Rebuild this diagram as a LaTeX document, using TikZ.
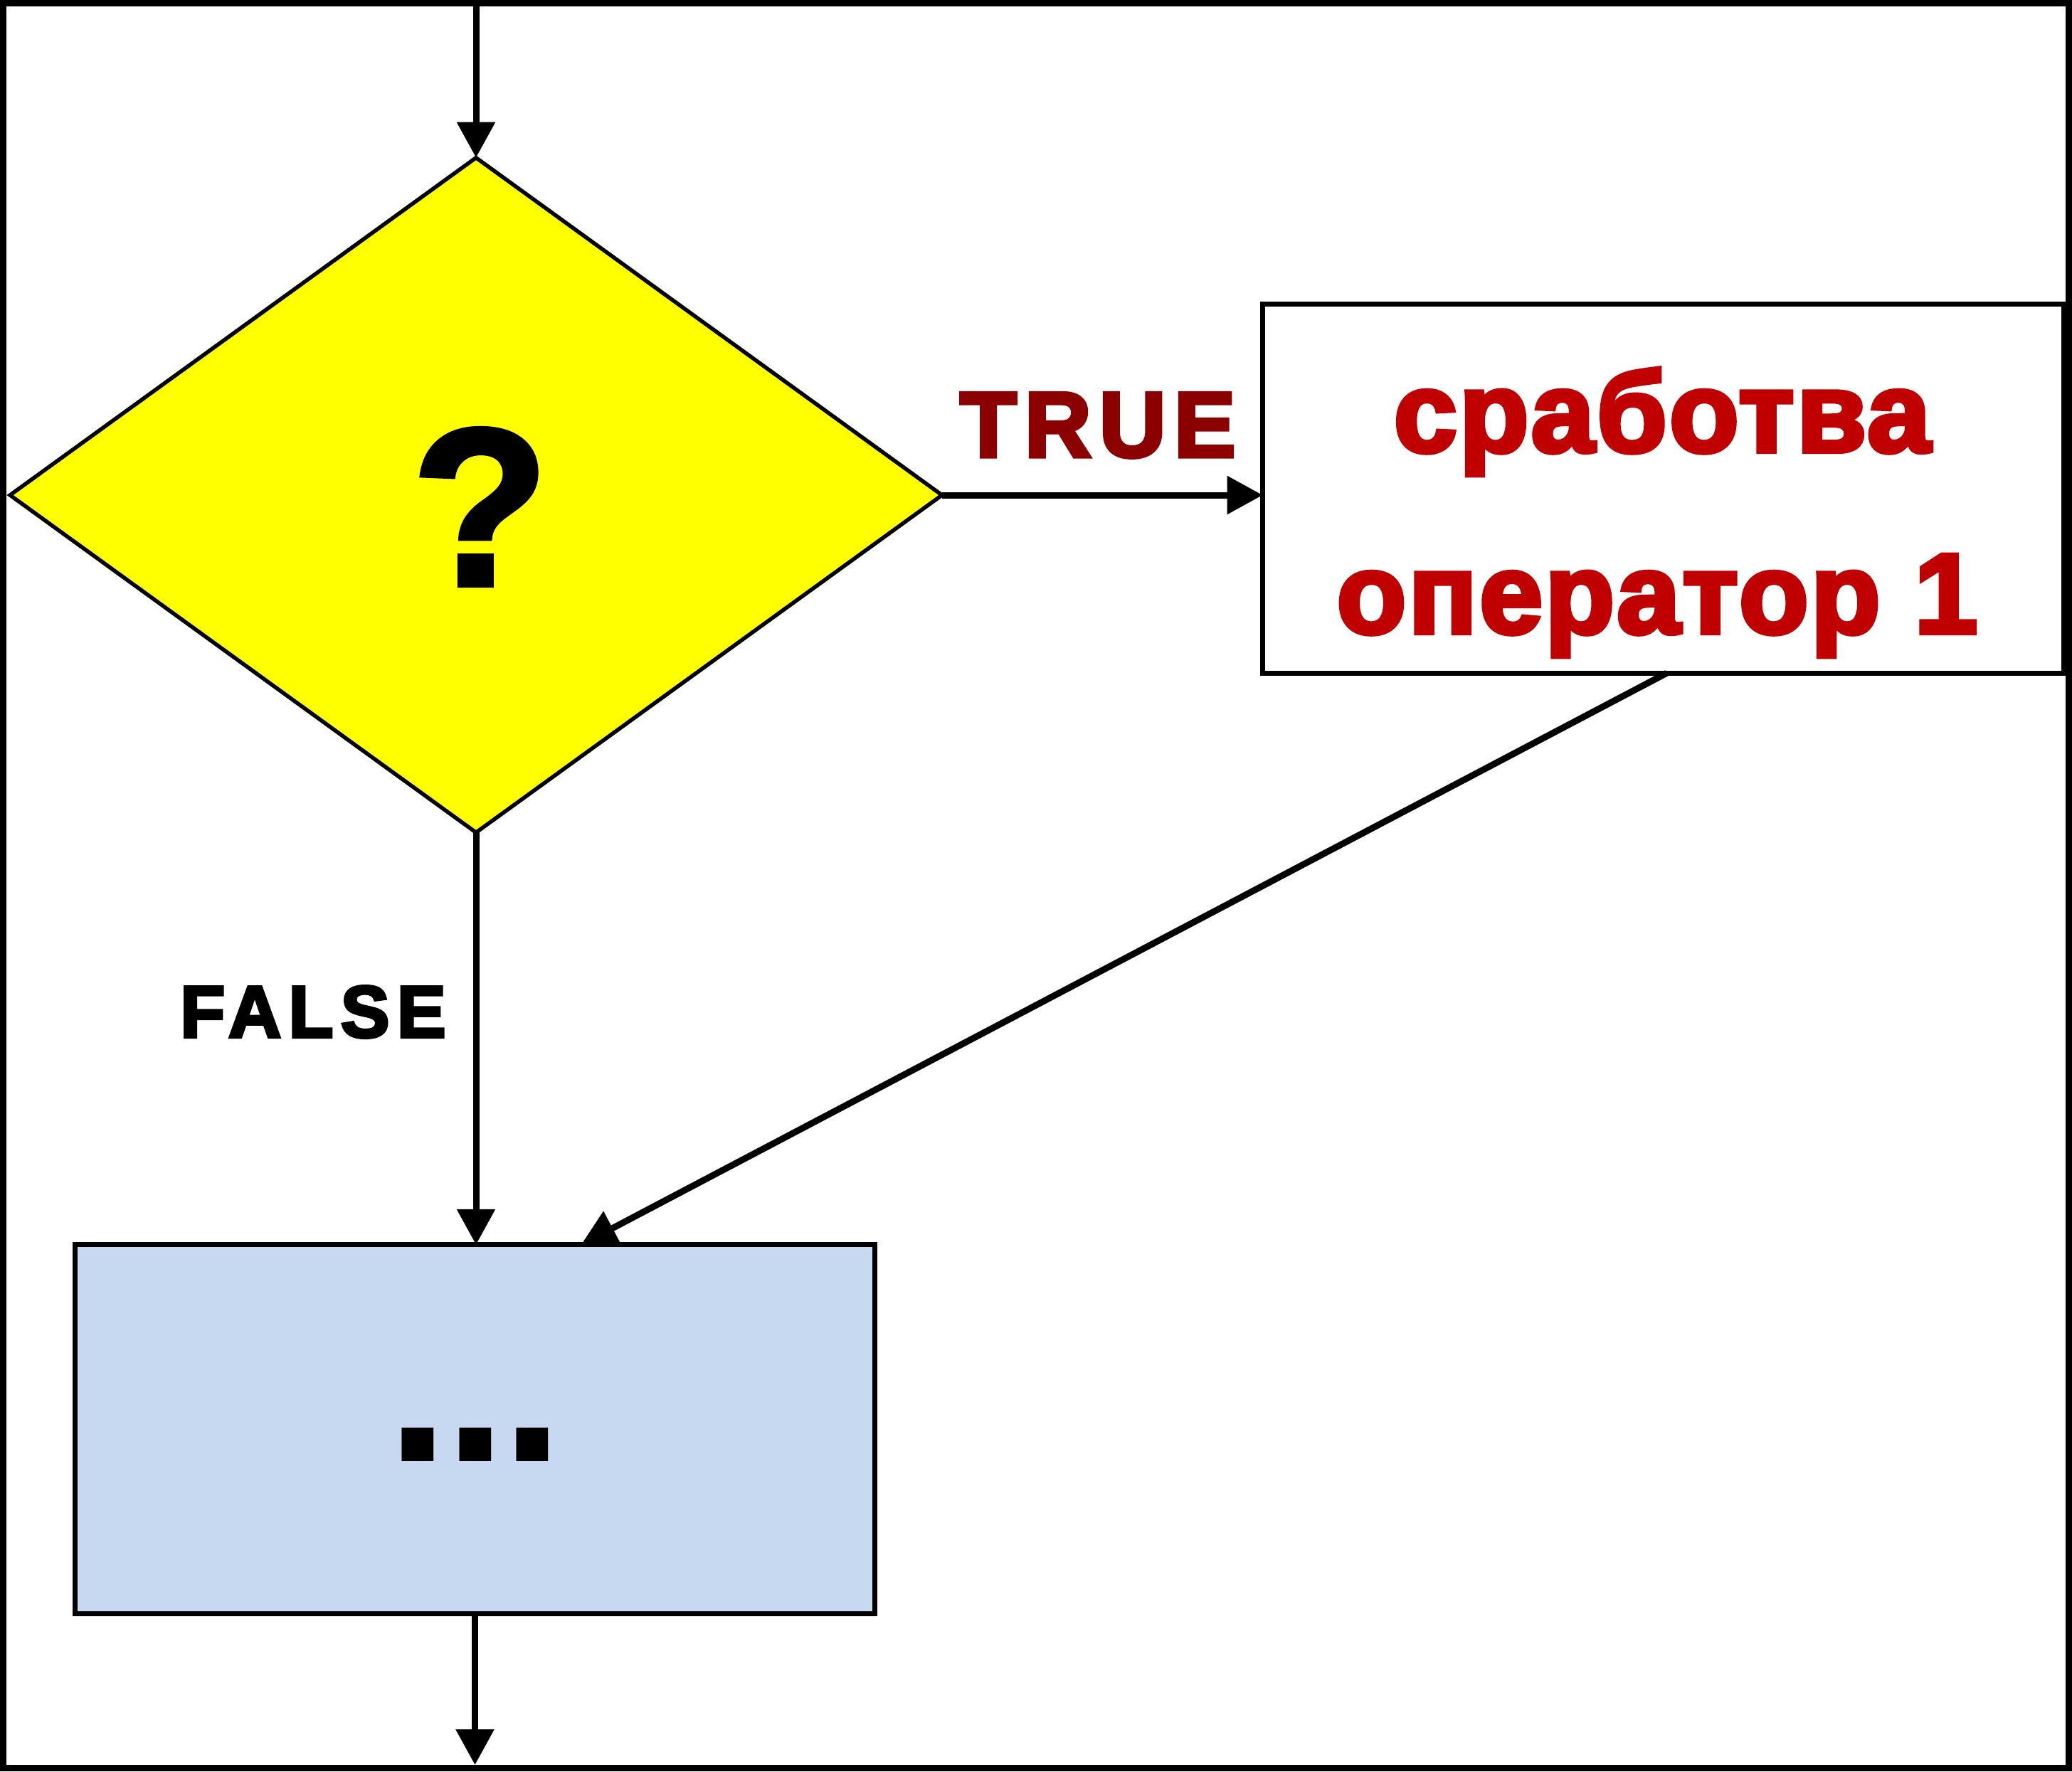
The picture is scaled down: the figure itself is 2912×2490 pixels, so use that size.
\documentclass[tikz,border=0pt]{standalone}
\usepackage{fontspec}
\setmainfont{Liberation Sans}
\usetikzlibrary{arrows.meta,shapes.geometric}
\definecolor{diayellow}{HTML}{FFFF00}
\definecolor{boxblue}{HTML}{C6D9F0}
\definecolor{truered}{HTML}{8B0000}
\definecolor{opred}{HTML}{C00000}
\begin{document}
\begin{tikzpicture}[x=0.01cm,y=-0.01cm,
  flow/.style={line width=0.09cm, -{Triangle[length=0.5cm,width=0.52cm]}},
  boxstyle/.style={draw, rectangle, line width=0.07cm, inner sep=0pt, outer sep=0pt},
  txt/.style={anchor=base, inner sep=0pt, outer sep=0pt}]
\useasboundingbox (0,0) rectangle (2912,2490);
% frame
\draw[line width=0.09cm] (4.5,4.5) rectangle (2907.5,2485.5);
\coordinate (topin) at (669,9);
\coordinate (botout) at (669,2481);
% shapes
\node[diamond, draw, fill=diayellow, line width=0.055cm, minimum width=13.09cm,
      minimum height=9.48cm, inner sep=0pt, outer sep=0pt] (dec) at (669,696) {};
\node[boxstyle, fill=white, minimum width=11.25cm, minimum height=5.18cm] (op) at (2337.5,687) {};
\node[boxstyle, fill=boxblue, minimum width=11.23cm, minimum height=5.18cm] (blk) at (667.5,2009) {};
% texts
\node[txt, font=\bfseries\fontsize{90}{100}\selectfont\addfontfeatures{FakeBold=2}] (q) at (675,823) {?};
\node[txt, font=\bfseries\fontsize{90}{100}\selectfont\addfontfeatures{LetterSpace=-2.4}] (dots) at (668,2054) {...};
\node[txt, text=opred, font=\bfseries\fontsize{45.5}{54}\selectfont\addfontfeatures{FakeBold=4,LetterSpace=2}] (l1) at (2336,635) {сработва};
\node[txt, text=opred, font=\bfseries\fontsize{45.5}{54}\selectfont\addfontfeatures{FakeBold=4,LetterSpace=2}] (l2) at (2329,890) {оператор 1};
\node[txt, text=truered, font=\bfseries\fontsize{37}{44}\selectfont\addfontfeatures{LetterSpace=8.5,FakeBold=4}] (t) at (1543,642) {TRUE};
\node[txt, text=black, font=\bfseries\fontsize{29.3}{35}\selectfont\addfontfeatures{LetterSpace=10,FakeBold=4}] (f) at (440,1458) {FALSE};
% connectors
\draw[flow] (topin) -- (topin |- dec.north);
\draw[flow] (dec.east) -- (dec.east -| op.west);
\draw[flow] (dec.south) -- (dec.south |- blk.north);
\draw[flow] ([xshift=0.05cm]op.south) -- ([xshift=1.49cm]blk.north);
\draw[flow] (blk.south) -- (blk.south |- botout);
\end{tikzpicture}
\end{document}
